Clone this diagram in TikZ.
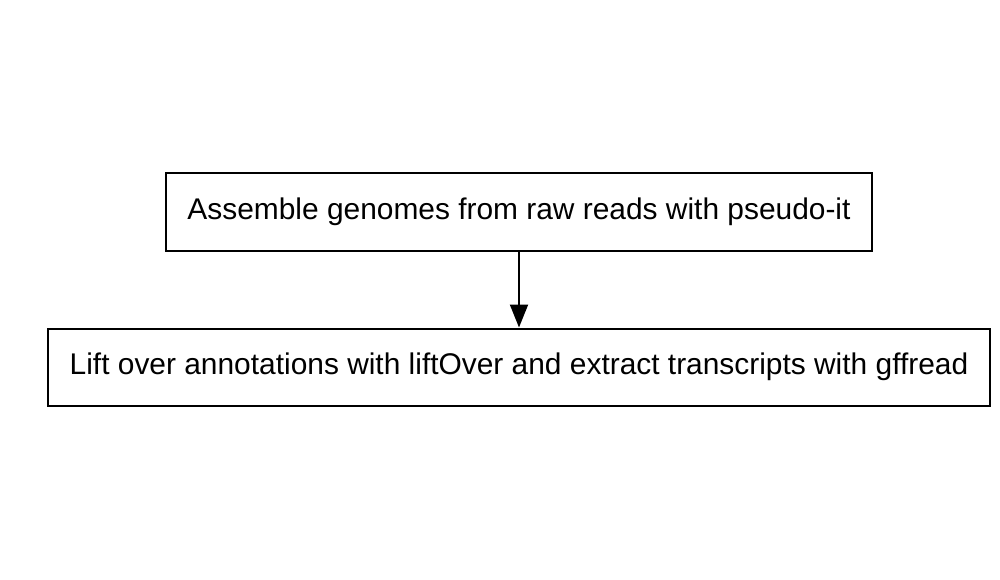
\documentclass[tikz,border=0pt]{standalone}
\usepackage{fontspec}
\setmainfont{Liberation Sans}
\usetikzlibrary{arrows.meta}
\begin{document}
\begin{tikzpicture}[x=1pt,y=-1pt,
  stepbox/.style={draw=black,line width=2pt,inner sep=0pt,font=\fontsize{29.9}{34}\selectfont},
  conn/.style={line width=2pt,-{Triangle[length=23pt,width=18pt]}}]
\useasboundingbox (0,0) rectangle (1000,580);
\node[stepbox,minimum width=706pt,minimum height=77pt] (a) at (519,212) {Assemble genomes from raw reads with pseudo-it};
\node[stepbox,minimum width=942pt,minimum height=77pt] (b) at (519,367) {Lift over annotations with liftOver and extract transcripts with gffread};
\draw[conn] (a.south) -- (b.north);
\end{tikzpicture}
\end{document}
